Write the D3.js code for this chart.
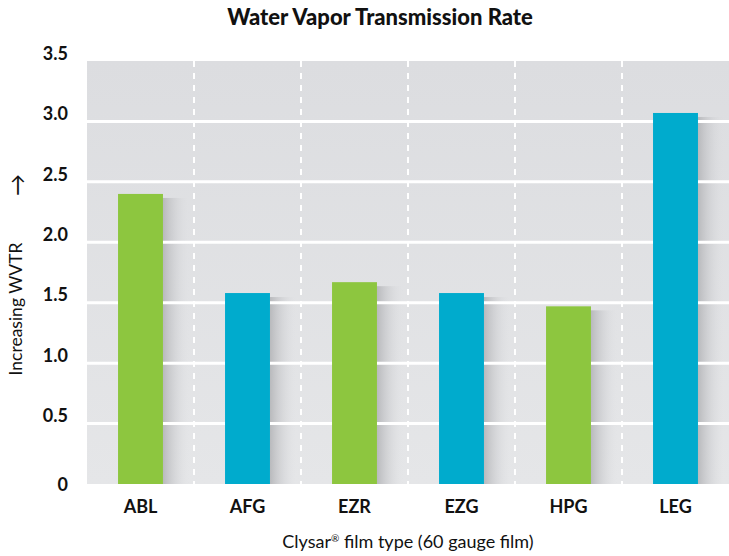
<!DOCTYPE html>
<html>
<head>
<meta charset="utf-8">
<script src="https://cdn.jsdelivr.net/npm/d3@7"></script>
<style>
  body { margin: 0; background: #fff; }
  text { font-family: Lato, "Open Sans", sans-serif; }
</style>
</head>
<body>
<div id="chart"></div>
<script>
// film types and their WVTR values
const films = ["ABL", "AFG", "EZR", "EZG", "HPG", "LEG"];
const wvtr = [2.40, 1.58, 1.67, 1.58, 1.47, 3.07];
const barColors = ["#8dc63f", "#00abcd", "#8dc63f", "#00abcd", "#8dc63f", "#00abcd"];
const yTicks = [0, 0.5, 1.0, 1.5, 2.0, 2.5, 3.0, 3.5];

const width = 729, height = 556;
const margin = { top: 61, right: 0, bottom: 72, left: 87 };
const innerW = width - margin.left - margin.right;
const innerH = height - margin.top - margin.bottom;

const svg = d3.select("#chart").append("svg")
  .attr("width", width)
  .attr("height", height);

const defs = svg.append("defs");

// plot background: grey, a touch lighter toward the bottom
const bg = defs.append("linearGradient").attr("id", "bg")
  .attr("x1", 0).attr("y1", 0).attr("x2", 0).attr("y2", 1);
bg.append("stop").attr("offset", "0%").attr("stop-color", "#dcdde0");
bg.append("stop").attr("offset", "100%").attr("stop-color", "#e5e6e8");

// soft shadow on the right of each bar
const sh = defs.append("linearGradient").attr("id", "shadow")
  .attr("x1", 0).attr("y1", 0).attr("x2", 1).attr("y2", 0);
sh.append("stop").attr("offset", "0%").attr("stop-color", "#b4b5b8").attr("stop-opacity", 0.9);
sh.append("stop").attr("offset", "100%").attr("stop-color", "#dcdde0").attr("stop-opacity", 0);

const g = svg.append("g")
  .attr("transform", `translate(${margin.left},${margin.top})`);

const x = d3.scaleBand()
  .domain(films)
  .range([0, innerW])
  .paddingInner(0.58)
  .paddingOuter(0.29);

const band = d3.scaleBand().domain(films).range([0, innerW]);

const y = d3.scaleLinear()
  .domain([0, 3.5])
  .range([innerH, 0]);

g.append("rect")
  .attr("width", innerW)
  .attr("height", innerH)
  .attr("fill", "url(#bg)");

// bar shadows
g.selectAll(".shadow")
  .data(films)
  .join("rect")
  .attr("class", "shadow")
  .attr("x", d => x(d) + x.bandwidth())
  .attr("y", (d, i) => y(wvtr[i]) + 4)
  .attr("width", 26)
  .attr("height", (d, i) => innerH - y(wvtr[i]) - 4)
  .attr("fill", "url(#shadow)");

// horizontal gridlines
g.selectAll(".grid")
  .data(yTicks.filter(t => t > 0 && t < 3.5))
  .join("line")
  .attr("class", "grid")
  .attr("x1", 0).attr("x2", innerW)
  .attr("y1", d => y(d)).attr("y2", d => y(d))
  .attr("stroke", "#fff")
  .attr("stroke-width", 3);

// dashed separators between film types
g.selectAll(".sep")
  .data(films.slice(1))
  .join("line")
  .attr("class", "sep")
  .attr("x1", d => band(d)).attr("x2", d => band(d))
  .attr("y1", 0).attr("y2", innerH)
  .attr("stroke", "#fff")
  .attr("stroke-width", 2)
  .attr("stroke-dasharray", "6,6");

// bars
g.selectAll(".bar")
  .data(films)
  .join("rect")
  .attr("class", "bar")
  .attr("x", d => x(d))
  .attr("y", (d, i) => y(wvtr[i]))
  .attr("width", x.bandwidth())
  .attr("height", (d, i) => innerH - y(wvtr[i]))
  .attr("fill", (d, i) => barColors[i]);

// y axis tick labels
const yAxis = g.append("g")
  .call(d3.axisLeft(y)
    .tickValues(yTicks)
    .tickFormat(d => d === 0 ? "0" : d3.format(".1f")(d))
    .tickSize(0)
    .tickPadding(19));
yAxis.select(".domain").remove();
yAxis.selectAll("text")
  .attr("dy", (d) => d === 0 ? "0.35em" : "-0.1em")
  .style("font-family", "Lato, sans-serif")
  .style("font-size", "18px")
  .style("font-weight", "bold")
  .attr("fill", "#111");

// x axis labels
const xAxis = g.append("g")
  .attr("transform", `translate(0,${innerH})`)
  .call(d3.axisBottom(band).tickSize(0).tickPadding(16));
xAxis.select(".domain").remove();
xAxis.selectAll("text")
  .style("font-family", "Lato, sans-serif")
  .style("font-size", "18px")
  .style("font-weight", "bold")
  .attr("fill", "#111");

// title
svg.append("text")
  .attr("x", 380)
  .attr("y", 25)
  .attr("text-anchor", "middle")
  .style("font-size", "22px")
  .style("font-weight", "900")
  .attr("fill", "#111")
  .text("Water Vapor Transmission Rate");

// x axis title
const xt = svg.append("text")
  .attr("x", 408)
  .attr("y", 548)
  .attr("text-anchor", "middle")
  .style("font-size", "18px")
  .attr("fill", "#111");
xt.append("tspan").text("Clysar");
xt.append("tspan").attr("dy", -6).style("font-size", "10px").text("®");
xt.append("tspan").attr("dy", 6).text(" film type (60 gauge film)");

// y axis title with arrow
svg.append("text")
  .attr("transform", "translate(15,309) rotate(-90)")
  .attr("text-anchor", "middle")
  .attr("dominant-baseline", "central")
  .style("font-size", "17.5px")
  .attr("fill", "#111")
  .text("Increasing WVTR");

svg.append("text")
  .attr("transform", "translate(16,185) rotate(-90)")
  .attr("text-anchor", "middle")
  .attr("dominant-baseline", "central")
  .style("font-size", "22px")
  .attr("fill", "#111")
  .text("→");
</script>
</body>
</html>
